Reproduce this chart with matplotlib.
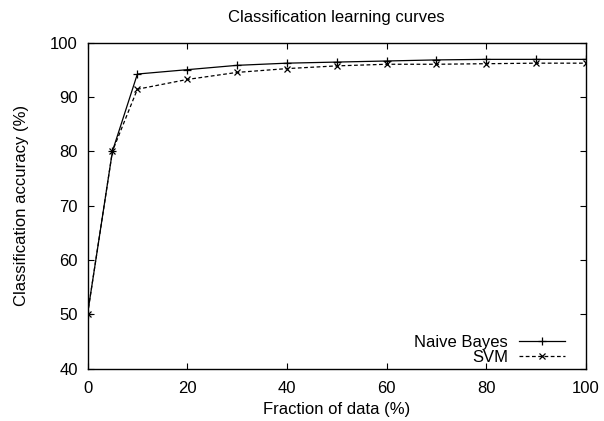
import matplotlib.pyplot as plt

# fraction of training data used (%)
fractions = [0, 5, 10, 20, 30, 40, 50, 60, 70, 80, 90, 100]
naive_bayes = [50, 80, 94.2, 95.0, 95.8, 96.2, 96.4, 96.6, 96.8, 96.9, 96.9, 96.9]
svm = [50, 80, 91.4, 93.2, 94.5, 95.2, 95.7, 96.0, 96.0, 96.1, 96.2, 96.2]

plt.rcParams['font.family'] = ['Liberation Sans', 'DejaVu Sans']

fig = plt.figure(figsize=(6.04, 4.21), dpi=100)
ax = fig.add_axes([0.1449, 0.1247, 0.8253, 0.7743])

ax.plot(fractions, naive_bayes, color='black', lw=0.9, marker='+', ms=6, mew=0.9,
        label='Naive Bayes')
ax.plot(fractions, svm, color='black', lw=0.9, ls=(0, (3, 2)), marker='x', ms=4.5, mew=0.9,
        label='SVM')

ax.set_xlim(0, 100)
ax.set_ylim(40, 100)
ax.set_xticks(range(0, 101, 20))
ax.set_yticks(range(40, 101, 10))
ax.tick_params(direction='in', length=4, width=0.8, top=True, right=True,
               labelsize=12)
ax.tick_params(axis='y', pad=7)
ax.tick_params(axis='x', pad=9)
for s in ax.spines.values():
    s.set_linewidth(1.0)

ax.set_xlabel('Fraction of data (%)', fontsize=12, labelpad=4)
ax.set_ylabel('Classification accuracy (%)', fontsize=12, labelpad=15)
ax.set_title('Classification learning curves', fontsize=12, pad=15)

ax.legend(loc='lower right', bbox_to_anchor=(0.958, 0.012), frameon=False,
          markerfirst=False, fontsize=12, handlelength=2.76, handletextpad=0.66,
          borderaxespad=0, borderpad=0, labelspacing=0.0)

fig.savefig('out.png', dpi=100)
